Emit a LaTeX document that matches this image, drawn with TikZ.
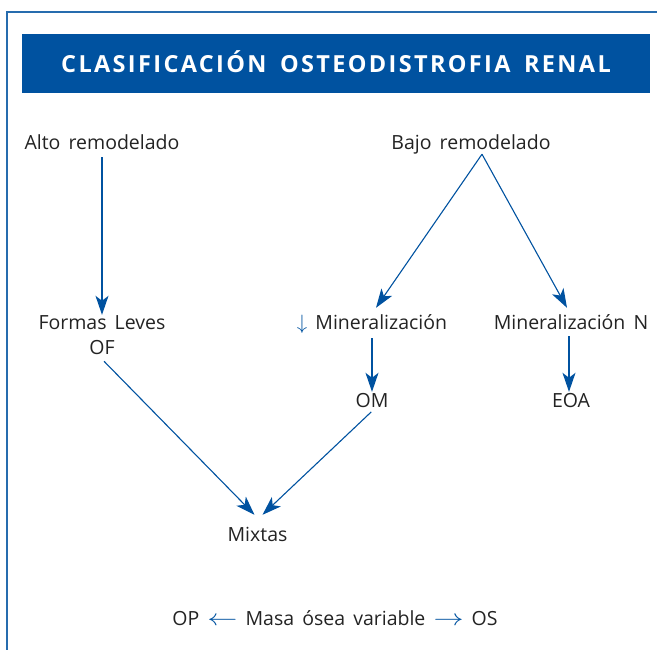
\documentclass[tikz,border=0pt]{standalone}
\usepackage{fontspec}
\setmainfont{Open Sans}[WordSpace=1.6]
\usepackage{xcolor}
\usepackage{graphicx}
\usepackage{tikz}
\usetikzlibrary{arrows.meta}
\definecolor{azul}{RGB}{0,82,160}
\definecolor{texto}{RGB}{35,35,35}

\newcommand{\flechaiz}{\textcolor{azul}{\scalebox{1.45}[1.1]{$\leftarrow$}}}
\newcommand{\flechade}{\textcolor{azul}{\scalebox{1.45}[1.1]{$\rightarrow$}}}

\begin{document}
\begin{tikzpicture}[
		x=1pt, y=-1pt,
		etiqueta/.style={anchor=base, inner sep=0pt, text height=15pt, text depth=4pt, font=\fontsize{19.5}{23}\selectfont, text=texto},
		titulo/.style={fill=azul, text=white, minimum width=628pt, minimum height=59pt, text height=18.7pt, text depth=0pt, inner sep=0pt, font=\fontsize{23.5}{27}\selectfont\bfseries\addfontfeature{LetterSpace=10}},
		flecha/.style={-{Stealth[length=19pt,width=13pt,inset=5pt]}, azul, line width=1.1pt},
		marco/.style={azul!85, line width=1.3pt}
	]
		\useasboundingbox (0,0) rectangle (657,650);
		
		% Frame and title
		\draw[marco] (7,650) -- (7,12) -- (657,12);
		\node[titulo] (cabecera) at (336,63.5) {CLASIFICACIÓN OSTEODISTROFIA RENAL};
		
		% High turnover
		\node[etiqueta] (alto) at (102,150) {Alto remodelado};
		\node[etiqueta] (formas) at (102,330) {Formas Leves};
		\node[etiqueta] (of) at (102,355) {OF};
		
		% Low turnover
		\node[etiqueta] (bajo) at (471,150) {Bajo remodelado};
		\node[etiqueta] (minbaja) at (372,330) {\textcolor{azul}{$\downarrow$} Mineralización};
		\node[etiqueta] (minn) at (571,330) {Mineralización N};
		\node[etiqueta] (om) at (372,407) {OM};
		\node[etiqueta] (eoa) at (571,407) {EOA};
		
		% Mixed
		\node[etiqueta] (mixtas) at (257.5,541) {Mixtas};
		\node[etiqueta] (masa) at (335,625) {OP \flechaiz{} Masa ósea variable \flechade{} OS};
		
		% Arrows
		\draw[flecha, shorten <=3pt] (alto) -- (formas);
		\draw[flecha] ([xshift=11pt]bajo.south) -- ([xshift=4pt,yshift=7pt]minbaja.north);
		\draw[flecha] ([xshift=11pt]bajo.south) -- ([xshift=-4pt,yshift=7pt]minn.north);
		\draw[flecha, shorten <=4pt] (minbaja) -- (om);
		\draw[flecha, shorten <=2pt] ([xshift=-2pt]minn.south) -- ([xshift=-2pt]eoa.north);
		\draw[flecha, shorten <=3pt] (of.south) -- ([xshift=-3pt,yshift=11pt]mixtas.north);
		\draw[flecha, shorten <=1pt] (om.south) -- ([xshift=5pt,yshift=11pt]mixtas.north);
	\end{tikzpicture}
\end{document}
